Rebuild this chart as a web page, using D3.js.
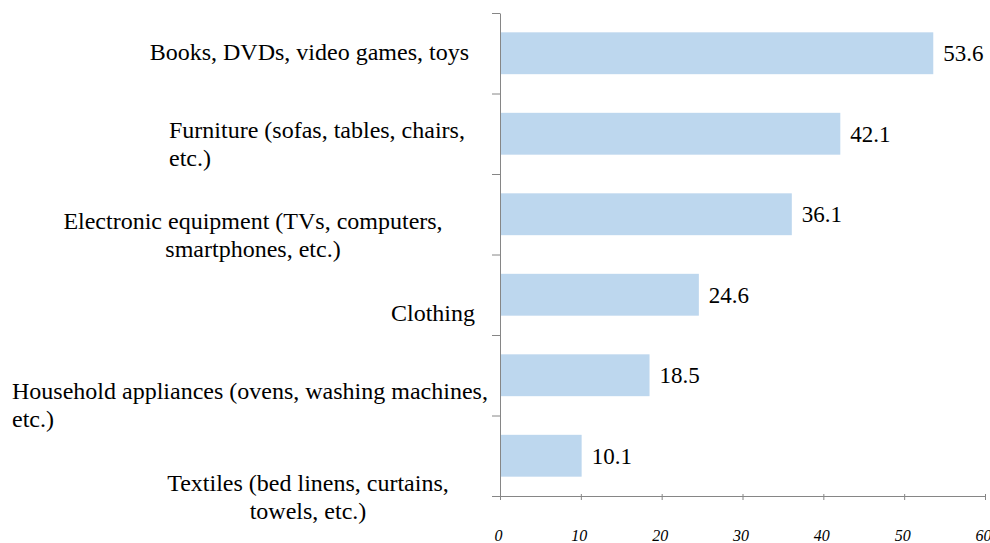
<!DOCTYPE html>
<html>
<head>
<meta charset="utf-8">
<script src="https://cdn.jsdelivr.net/npm/d3@7"></script>
<style>
  body { margin: 0; background: #fff; }
  svg { display: block; }
  .axis path, .axis line { stroke: #868686; }
</style>
</head>
<body>
<div id="chart"></div>
<script>
const categories = [
    "Books, DVDs, video games, toys",
    "Furniture (sofas, tables, chairs, etc.)",
    "Electronic equipment (TVs, computers, smartphones, etc.)",
    "Clothing",
    "Household appliances (ovens, washing machines, etc.)",
    "Textiles (bed linens, curtains, towels, etc.)"
];
const labelLines = [
    ["Books, DVDs, video games, toys"],
    ["Furniture (sofas, tables, chairs,", "etc.)"],
    ["Electronic equipment (TVs, computers,", "smartphones, etc.)"],
    ["Clothing"],
    ["Household appliances (ovens, washing machines,", "etc.)"],
    ["Textiles (bed linens, curtains,", "towels, etc.)"]
];
const values = [53.6, 42.1, 36.1, 24.6, 18.5, 10.1];
const xTicks = [0, 10, 20, 30, 40, 50, 60];

// label placement (copied from the original layout, which is not regular)
const labelLayout = [
    { anchor: "end", x: 469, dy: 0 },
    { anchor: "start", x: 169, dy: 3 },
    { anchor: "middle", x: 253, dy: 5 },
    { anchor: "end", x: 475, dy: -6 },
    { anchor: "start", x: 12, dy: -3 },
    { anchor: "middle", x: 308, dy: 0 }
];

const WIDTH = 990, HEIGHT = 543;
const FONT = "'Liberation Serif', 'Times New Roman', serif";

const svg = d3.select("#chart").append("svg")
    .attr("width", WIDTH)
    .attr("height", HEIGHT);

const x = d3.scaleLinear().domain([0, 60]).range([500, 985]);
const y = d3.scaleBand()
    .domain(categories)
    .range([13, 496])
    .paddingInner(0.48)
    .paddingOuter(0.24);

// band boundaries for the category ticks
const yEdges = d3.scaleLinear().domain([0, categories.length]).range([13, 496]);
// centres of the (irregular) category label blocks
const yLabel = d3.scaleLinear().domain([0, categories.length - 1]).range([53, 498]);

svg.selectAll("rect.bar")
    .data(values)
    .enter().append("rect")
    .attr("class", "bar")
    .attr("x", x(0))
    .attr("y", (d, i) => y(categories[i]))
    .attr("width", d => x(d) - x(0))
    .attr("height", y.bandwidth())
    .attr("fill", "#bdd7ee");

svg.selectAll("text.val")
    .data(values)
    .enter().append("text")
    .attr("class", "val")
    .attr("x", d => x(d) + 10)
    .attr("y", (d, i) => y(categories[i]) + y.bandwidth() / 2 + 8)
    .style("font-family", FONT)
    .style("font-size", "23px")
    .text(d => d.toFixed(1));

// y axis
const yAxis = svg.append("g")
    .attr("class", "axis")
    .attr("transform", `translate(${x(0)},0)`)
    .call(d3.axisLeft(yEdges).ticks(categories.length).tickFormat("").tickSizeInner(8).tickSizeOuter(0));
yAxis.selectAll(".tick text").remove();

// x axis
const xAxis = svg.append("g")
    .attr("class", "axis")
    .attr("transform", `translate(0,${yEdges(categories.length)})`)
    .call(d3.axisBottom(x).tickValues(xTicks).tickSizeOuter(0));
xAxis.select(".domain").attr("d", `M${x(0) - 8},0.5H${x(60) + 0.5}`);
xAxis.selectAll(".tick line").attr("y1", -2).attr("y2", 4);
xAxis.selectAll(".tick text")
    .attr("y", 45)
    .attr("dy", 0)
    .attr("dx", -2)
    .attr("fill", "#000")
    .style("font-family", FONT)
    .style("font-style", "italic")
    .style("font-size", "16px");
xAxis.attr("font-family", null);

// category labels
const lineH = 28;
const labels = svg.selectAll("text.cat")
    .data(labelLines)
    .enter().append("text")
    .attr("class", "cat")
    .attr("text-anchor", (d, i) => labelLayout[i].anchor)
    .style("font-family", FONT)
    .style("font-size", "24px")
    .attr("fill", "#000");

labels.each(function(lines, i) {
    const lay = labelLayout[i];
    const first = yLabel(i) + lay.dy - (lines.length - 1) * lineH / 2 + 7;
    d3.select(this).selectAll("tspan")
        .data(lines)
        .enter().append("tspan")
        .attr("x", lay.x)
        .attr("y", (l, j) => first + j * lineH)
        .text(l => l);
});
</script>
</body>
</html>
